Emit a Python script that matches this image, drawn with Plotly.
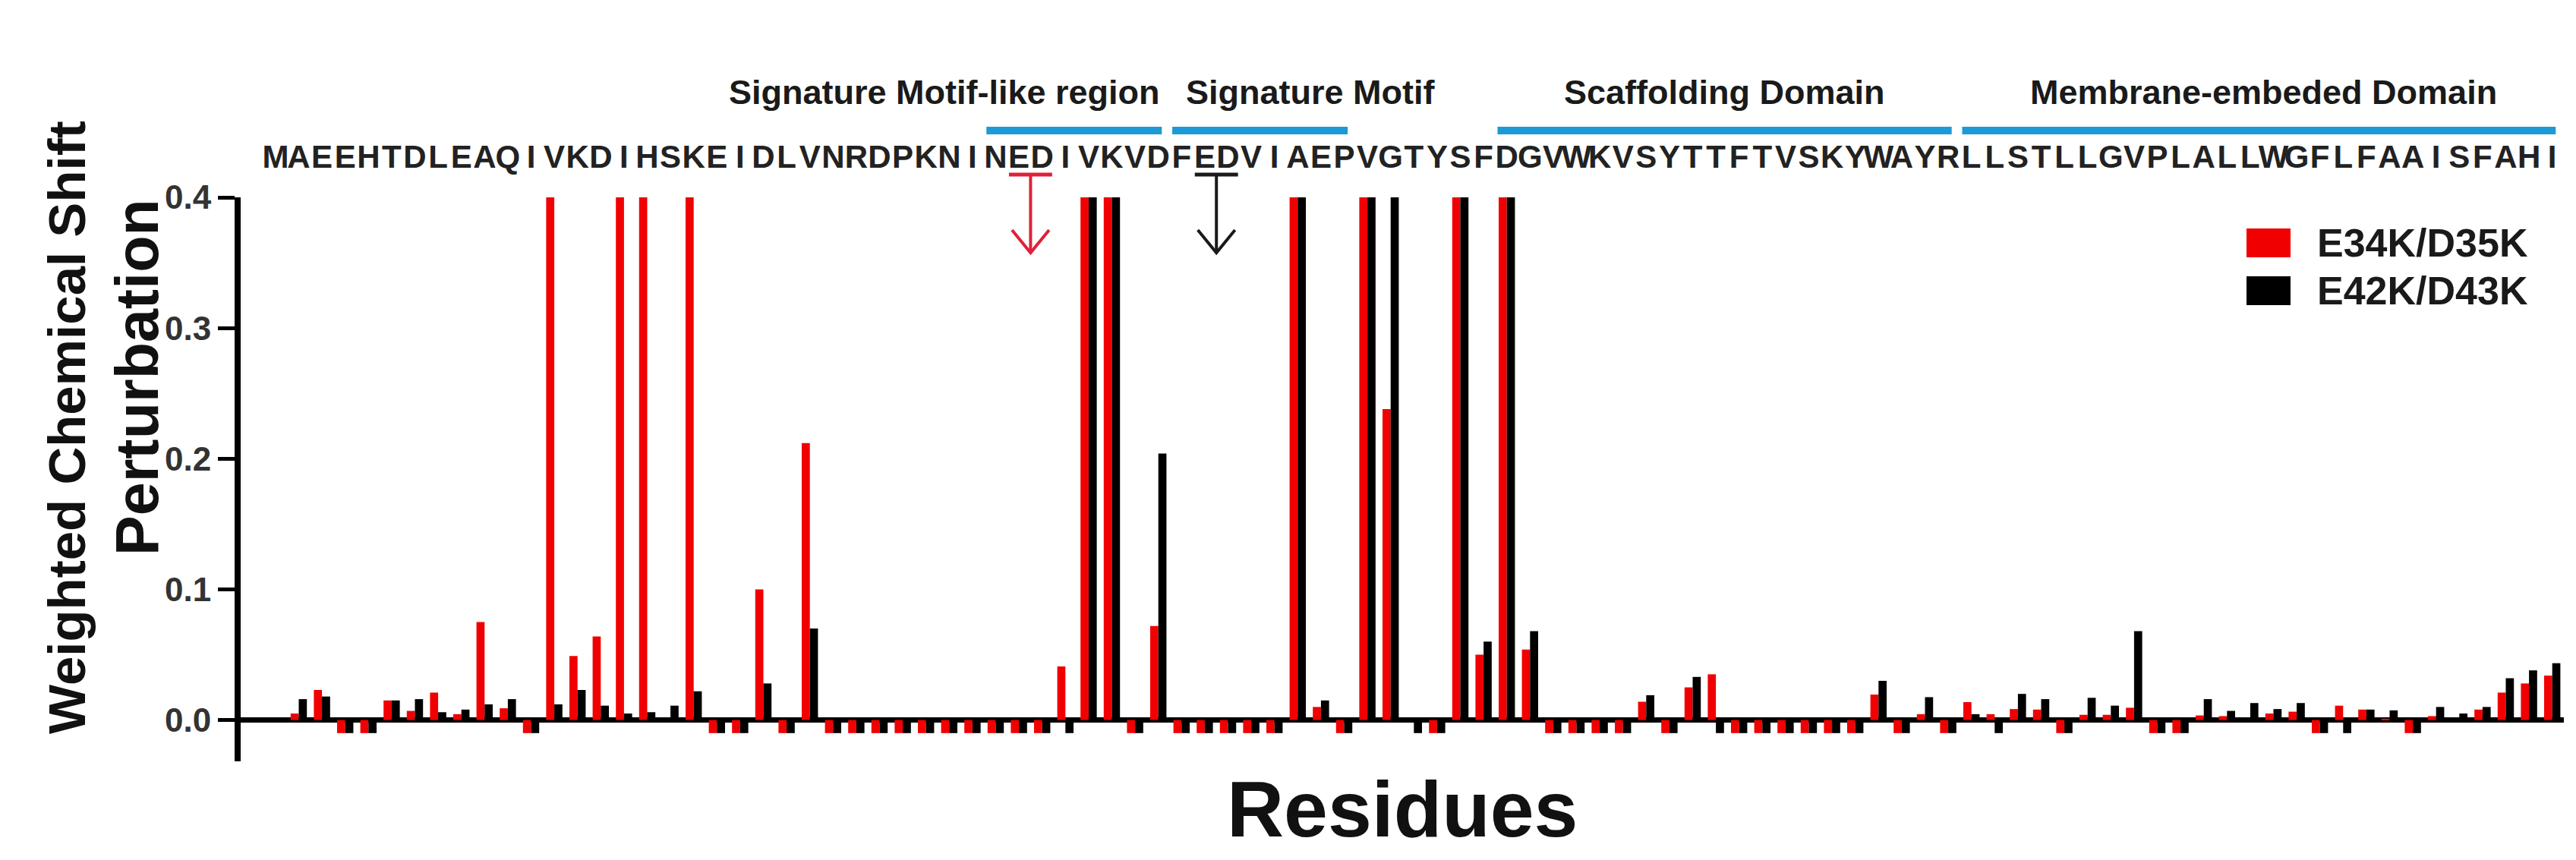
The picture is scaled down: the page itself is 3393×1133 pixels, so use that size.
import plotly.graph_objects as go

SEQUENCE = list("MAEEHTDLEAQIVKDIHSKEIDLVNRDPKNINEDIVKVDFEDVIAEPVGTYSFDGVWKVSYTTFTVSKYWAYRLLSTLLGVPLALLWGFLFAAISFAHI")
RESIDUES = list(range(1, len(SEQUENCE) + 1))

# weighted CSP per residue; -0.01 marks unassigned residues, 0.4 = off scale
E34K_D35K = [
    0, 0.005, 0.023, -0.01, -0.01, 0.015, 0.007, 0.021, 0.0045, 0.075,
    0.009, -0.01, 0.4, 0.049, 0.064, 0.4, 0.4, 0, 0.4, -0.01,
    -0.01, 0.1, -0.01, 0.212, -0.01, -0.01, -0.01, -0.01, -0.01, -0.01,
    -0.01, -0.01, -0.01, -0.01, 0.041, 0.4, 0.4, -0.01, 0.072, -0.01,
    -0.01, -0.01, -0.01, -0.01, 0.4, 0.010, -0.01, 0.4, 0.238, 0,
    -0.01, 0.4, 0.050, 0.4, 0.054, -0.01, -0.01, -0.01, -0.01, 0.014,
    -0.01, 0.025, 0.035, -0.01, -0.01, -0.01, -0.01, -0.01, -0.01, 0.0195,
    -0.01, 0.0045, -0.01, 0.0137, 0.0045, 0.0084, 0.008, -0.01, 0.004, 0.004,
    0.0094, -0.01, -0.01, 0.0035, 0.003, 0, 0.005, 0.0064, -0.01, 0.011,
    0.008, 0.001, -0.01, 0.003, 0, 0.008, 0.021, 0.028, 0.034,
]
E42K_D43K = [
    0, 0.016, 0.018, -0.01, -0.01, 0.015, 0.016, 0.006, 0.008, 0.012,
    0.016, -0.01, 0.012, 0.023, 0.011, 0.005, 0.006, 0.011, 0.022, -0.01,
    -0.01, 0.028, -0.01, 0.070, -0.01, -0.01, -0.01, -0.01, -0.01, -0.01,
    -0.01, -0.01, -0.01, -0.01, -0.01, 0.4, 0.4, -0.01, 0.204, -0.01,
    -0.01, -0.01, -0.01, -0.01, 0.4, 0.015, -0.01, 0.4, 0.4, -0.01,
    -0.01, 0.4, 0.060, 0.4, 0.068, -0.01, -0.01, -0.01, -0.01, 0.019,
    -0.01, 0.033, -0.01, -0.01, -0.01, -0.01, -0.01, -0.01, -0.01, 0.030,
    -0.01, 0.0175, -0.01, 0.0045, -0.01, 0.020, 0.016, -0.01, 0.017, 0.011,
    0.068, -0.01, -0.01, 0.016, 0.007, 0.013, 0.0084, 0.013, -0.01, -0.01,
    0.008, 0.0074, -0.01, 0.010, 0.005, 0.010, 0.032, 0.038, 0.0435,
]

REGION_NAMES = ["Signature Motif-like region", "Signature Motif",
                "Scaffolding Domain", "Membrane-embeded Domain"]
REGION_START = [32, 40, 54, 74]
REGION_END = [39, 47, 73, 99]

MUTANTS = ["E34K/D35K", "E42K/D43K"]
MUTANT_SITES = [(33, 34), (41, 42)]  # positions in SEQUENCE

YTICKS = [0.0, 0.1, 0.2, 0.3, 0.4]
YTICK_TEXT = ["0.0", "0.1", "0.2", "0.3", "0.4"]

RED = "#f00000"
BLACK = "#000000"
BLUE = "#1d9ad6"
ARROW_COLORS = ["#e0203a", "#1a1a1a"]
FONT = "Liberation Sans, Arial, sans-serif"

W, H = 3393, 1133
MT, MB, ML, MR = 260, 130, 317, 16


def py(y_px):
    # page pixel row -> paper y
    return (H - MB - y_px) / (H - MT - MB)


def px(x_px):
    return (x_px - ML) / (W - ML - MR)


fig = go.Figure()
fig.add_trace(go.Bar(x=RESIDUES, y=E34K_D35K, name=MUTANTS[0],
                     marker=dict(color=RED, line=dict(width=0)), showlegend=False))
fig.add_trace(go.Bar(x=RESIDUES, y=E42K_D43K, name=MUTANTS[1],
                     marker=dict(color=BLACK, line=dict(width=0)), showlegend=False))

shapes = []
annotations = []

# domain bars + labels
anchors = ["right", "left", "center", "center"]
nudges = [0, 16, 0, 6]
for name, s, e, anc, dx in zip(REGION_NAMES, REGION_START, REGION_END, anchors, nudges):
    x0, x1 = s - 0.4, e + 0.15
    shapes.append(dict(type="line", xref="x", yref="paper", x0=x0, x1=x1,
                       y0=py(172), y1=py(172), line=dict(color=BLUE, width=10)))
    ax = {"right": x1, "left": x0, "center": (x0 + x1) / 2}[anc]
    annotations.append(dict(x=ax, y=py(121), xref="x", yref="paper", text=name,
                            showarrow=False, xanchor=anc, yanchor="middle", xshift=dx,
                            font=dict(family=FONT, size=45, color="#1a1a1a", weight="bold")))

# mutation arrows under the sequence
for sites, col in zip(MUTANT_SITES, ARROW_COLORS):
    xc = sum(sites) / len(sites)
    hw = 0.93
    shapes.append(dict(type="line", xref="x", yref="paper", x0=xc - hw, x1=xc + hw,
                       y0=py(230), y1=py(230), line=dict(color=col, width=5)))
    shapes.append(dict(type="line", xref="x", yref="paper", x0=xc, x1=xc,
                       y0=py(230), y1=py(332), line=dict(color=col, width=4)))
    shapes.append(dict(type="path", xref="x", yref="paper",
                       path=f"M {xc - 0.8},{py(303)} L {xc},{py(333)} L {xc + 0.8},{py(303)}",
                       line=dict(color=col, width=4)))

# legend
for i, (name, col) in enumerate(zip(MUTANTS, [RED, BLACK])):
    y0 = 301 + i * 63
    shapes.append(dict(type="rect", xref="paper", yref="paper",
                       x0=px(2959), x1=px(3017), y0=py(y0), y1=py(y0 + 38),
                       fillcolor=col, line=dict(width=0)))
    annotations.append(dict(x=px(3050), y=py(y0 + 19), xref="paper", yref="paper",
                            text=name, showarrow=False, xanchor="left", yanchor="middle",
                            font=dict(family=FONT, size=52, color="#1a1a1a", weight="bold")))

# axis titles
annotations.append(dict(x=0.5, y=py(1066), xref="paper", yref="paper", text="Residues",
                        showarrow=False, xanchor="center", yanchor="middle",
                        font=dict(family=FONT, size=104, color="#111", weight="bold")))
annotations.append(dict(x=px(88), y=py(563), xref="paper", yref="paper",
                        text="Weighted Chemical Shift", textangle=-90,
                        showarrow=False, xanchor="center", yanchor="middle",
                        font=dict(family=FONT, size=69, color="#111", weight="bold")))
annotations.append(dict(x=px(180), y=py(497), xref="paper", yref="paper",
                        text="Perturbation", textangle=-90,
                        showarrow=False, xanchor="center", yanchor="middle",
                        font=dict(family=FONT, size=79, color="#111", weight="bold")))

fig.update_layout(
    width=W, height=H,
    margin=dict(l=ML, r=MR, t=MT, b=MB),
    paper_bgcolor="white", plot_bgcolor="white",
    barmode="group", bargap=0.3, bargroupgap=0,
    shapes=shapes, annotations=annotations,
    showlegend=False,
    xaxis=dict(range=[-0.5, 99.5], side="top", tickmode="array",
               tickvals=RESIDUES, ticktext=SEQUENCE, ticks="", tickangle=0, showline=False,
               showgrid=False, zeroline=False, automargin=False, ticklabelstandoff=30,
               tickfont=dict(family=FONT, size=42, color="#222", weight="bold")),
    yaxis=dict(range=[-0.0316, 0.4], tickmode="array", tickvals=YTICKS, ticktext=YTICK_TEXT,
               ticks="outside", ticklen=22, tickwidth=5, tickcolor="black",
               showline=True, linewidth=8, linecolor="black", showgrid=False,
               zeroline=True, zerolinecolor="black", zerolinewidth=7, automargin=False,
               tickfont=dict(family=FONT, size=44, color="#333", weight="bold")),
)

fig.write_html("out.html", config={"displayModeBar": False},
               post_script="document.body.style.margin='0px';")
